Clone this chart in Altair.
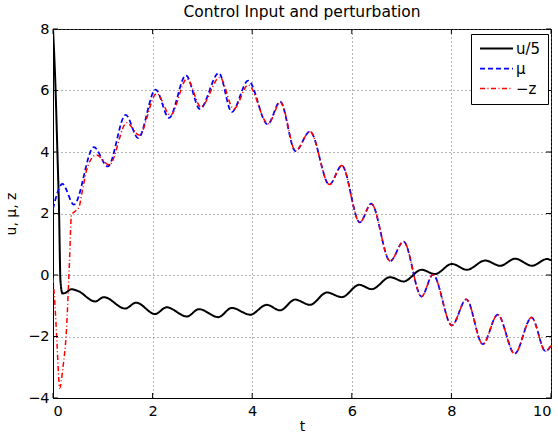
import altair as alt
import pandas as pd

# ---------------- data ----------------
series = ["u/5", "μ", "−z"]
colors = ["black", "blue", "red"]
dashes = [[1, 0], [5, 3], [5, 2.5, 1, 2.5]]
widths = [2.0, 1.5, 1.5]

x_ticks = [0, 2, 4, 6, 8, 10]
y_ticks = [-4, -2, 0, 2, 4, 6, 8]

t_u = [0.0, 0.05, 0.09, 0.12, 0.15, 0.19, 0.25, 0.37, 0.5, 0.85, 1.02, 1.45, 1.67,
       2.05, 2.28, 2.69, 2.93, 3.32, 3.59, 3.96, 4.29, 4.56, 4.86, 5.16, 5.50,
       5.80, 6.15, 6.40, 6.77, 7.04, 7.40, 7.67, 8.01, 8.31, 8.68, 8.98, 9.28,
       9.62, 9.92, 10.0]
u5 = [8.0, 6.1, 3.9, 2.2, -0.2, -0.6, -0.58, -0.46, -0.52, -0.86, -0.72, -1.09, -0.90,
      -1.27, -1.05, -1.35, -1.11, -1.37, -1.07, -1.29, -0.97, -1.15, -0.80, -0.97, -0.57,
      -0.72, -0.32, -0.46, -0.07, -0.21, 0.17, 0.03, 0.36, 0.17, 0.47, 0.30, 0.53,
      0.30, 0.52, 0.48]

t_mu = [0.0, 0.19, 0.42, 0.82, 1.10, 1.46, 1.71, 2.06, 2.33, 2.67, 2.95, 3.33, 3.59,
        3.92, 4.31, 4.56, 4.87, 5.16, 5.55, 5.80, 6.16, 6.39, 6.77, 7.04, 7.40, 7.63,
        8.01, 8.30, 8.63, 8.93, 9.27, 9.61, 9.89, 10.0]
mu = [2.15, 2.96, 2.29, 4.16, 3.53, 5.21, 4.45, 6.03, 5.11, 6.49, 5.40, 6.57, 5.30,
      6.32, 4.90, 5.64, 4.03, 4.67, 2.94, 3.56, 1.71, 2.32, 0.45, 1.09, -0.70, 0.01,
      -1.64, -0.79, -2.25, -1.29, -2.56, -1.38, -2.48, -2.30]

t_z = [0.0, 0.04, 0.08, 0.11, 0.135, 0.2, 0.27, 0.33, 0.37, 0.45, 0.52, 0.6, 0.7, 0.87,
       1.13, 1.48, 1.73, 2.08, 2.36, 2.69, 2.97, 3.35, 3.63, 3.92, 4.32, 4.57, 4.87,
       5.16, 5.55, 5.80, 6.16, 6.39, 6.77, 7.04, 7.40, 7.63, 8.01, 8.30, 8.63, 8.93,
       9.27, 9.61, 9.89, 10.0]
negz = [-0.1, -1.0, -2.2, -3.2, -3.68, -3.0, -1.8, 0.4, 1.95, 2.08, 2.2, 2.83, 3.55, 3.90,
        3.58, 4.95, 4.55, 5.90, 5.20, 6.38, 5.47, 6.43, 5.40, 6.18, 4.92, 5.62, 4.04,
        4.67, 2.94, 3.56, 1.71, 2.32, 0.45, 1.09, -0.70, 0.01, -1.64, -0.79, -2.25, -1.29,
        -2.56, -1.38, -2.48, -2.30]

# ---------------- build table ----------------
rows = []
for name, ts, vs in zip(series, [t_u, t_mu, t_z], [u5, mu, negz]):
    for i, (t, v) in enumerate(zip(ts, vs)):
        rows.append({"t": t, "v": v, "s": name, "o": i})
df = pd.DataFrame(rows)

W, H = 498, 369
FONT = "DejaVu Sans"
xs = alt.Scale(domain=[0, 10], nice=False, zero=False)
ys = alt.Scale(domain=[-4, 8], nice=False, zero=False)
x_axis = alt.Axis(values=x_ticks, title="t", format="d", labelPadding=6, titlePadding=2)
y_axis = alt.Axis(values=y_ticks, title="u, μ, z", format="d", labelPadding=4, titlePadding=9)

lines = alt.Chart(df).mark_line(interpolate="monotone", clip=True).encode(
    x=alt.X("t:Q", scale=xs, axis=x_axis),
    y=alt.Y("v:Q", scale=ys, axis=y_axis),
    color=alt.Color("s:N", scale=alt.Scale(domain=series, range=colors),
                    legend=alt.Legend(title=None)),
    strokeDash=alt.StrokeDash("s:N", scale=alt.Scale(domain=series, range=dashes),
                              legend=alt.Legend(title=None)),
    strokeWidth=alt.StrokeWidth("s:N", scale=alt.Scale(domain=series, range=widths),
                                legend=None),
    order="o:Q",
)

ytick_df = pd.DataFrame({"v": y_ticks})
xtick_df = pd.DataFrame({"t": x_ticks})
TL = 5
tl = alt.Chart(ytick_df).mark_rule(color="black", strokeWidth=1).encode(
    y=alt.Y("v:Q", scale=ys, axis=y_axis), x=alt.value(0), x2=alt.value(TL))
tr = alt.Chart(ytick_df).mark_rule(color="black", strokeWidth=1).encode(
    y=alt.Y("v:Q", scale=ys, axis=y_axis), x=alt.value(W - TL), x2=alt.value(W))
tb = alt.Chart(xtick_df).mark_rule(color="black", strokeWidth=1).encode(
    x=alt.X("t:Q", scale=xs, axis=x_axis), y=alt.value(H), y2=alt.value(H - TL))
tt = alt.Chart(xtick_df).mark_rule(color="black", strokeWidth=1).encode(
    x=alt.X("t:Q", scale=xs, axis=x_axis), y=alt.value(0), y2=alt.value(TL))

chart = alt.layer(lines, tl, tr, tb, tt).properties(
    width=W, height=H,
    title=alt.TitleParams("Control Input and perturbation", font=FONT, fontSize=15.5,
                          fontWeight="normal", color="black", anchor="middle",
                          baseline="bottom", offset=0, dy=14, frame="group"),
    autosize=alt.AutoSizeParams(type="none"),
    padding={"left": 53, "top": 29, "right": 7, "bottom": 43},
).configure_view(
    stroke="black", strokeWidth=1
).configure_axis(
    labelFont=FONT, labelFontSize=14.5, labelColor="black",
    titleFont=FONT, titleFontSize=14, titleFontWeight="normal", titleColor="black",
    ticks=False, domainColor="black", domainWidth=1,
    grid=True, gridColor="#666666", gridDash=[1, 3], gridWidth=1,
).configure_legend(
    orient="none", legendX=418, legendY=5, direction="vertical",
    fillColor="white", strokeColor="black", strokeWidth=1, padding=7, cornerRadius=0,
    symbolType="M-3,0L3,0", symbolSize=121, symbolStrokeWidth=1.2, symbolOffset=11,
    labelFont=FONT, labelFontSize=15, labelColor="black", labelOffset=12, rowPadding=4,
)

chart.save("out.html", embed_options={"renderer": "svg", "actions": False})
